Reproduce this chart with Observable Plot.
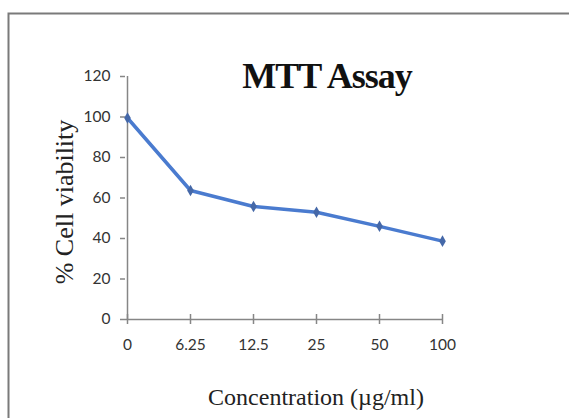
<!DOCTYPE html>
<html>
<head>
<meta charset="utf-8">
<script src="https://cdn.jsdelivr.net/npm/d3@7"></script>
<script src="https://cdn.jsdelivr.net/npm/@observablehq/plot@0.6"></script>
<style>
  html, body { margin: 0; padding: 0; background: #fff; }
  #chart { position: relative; width: 569px; height: 418px; }
</style>
</head>
<body>
<div id="chart"></div>
<script>
const concentrations = ["0", "6.25", "12.5", "25", "50", "100"];
const viability = [99.5, 63.7, 55.8, 53.0, 46.0, 38.7];
const yTicks = [0, 20, 40, 60, 80, 100, 120];
const titleText = "MTT Assay";
const xTitle = "Concentration (\u00b5g/ml)";
const yTitle = "% Cell viability";

const data = concentrations.map((c, i) => ({conc: c, v: viability[i]}));

const axisColor = "#868686";
const tickFont = "Lato, 'Open Sans', sans-serif";
const serif = "'Liberation Serif', 'DejaVu Serif', serif";

const plot = Plot.plot({
  width: 569,
  height: 418,
  marginLeft: 125,
  marginRight: 126,
  marginTop: 76,
  marginBottom: 99,
  style: {background: "transparent", overflow: "visible"},
  x: {type: "point", domain: concentrations, padding: 0, axis: null},
  y: {domain: [0, 120], axis: null},
  marks: [
    Plot.ruleX([concentrations[0]], {y1: 0, y2: 120, stroke: axisColor, strokeWidth: 1.5}),
    Plot.ruleY([0], {stroke: axisColor, strokeWidth: 1.5}),
    Plot.axisY({ticks: yTicks, tickSize: 5, tickPadding: 10, stroke: axisColor, strokeWidth: 1.5,
      fontSize: 15.5, fontFamily: tickFont, fill: "#333", label: null}),
    Plot.axisX({tickSize: 10, dy: -5, tickFormat: () => "", stroke: axisColor, strokeWidth: 1.5, label: null}),
    Plot.axisX({tickSize: 0, tickPadding: 19, fontSize: 15.5, fontFamily: tickFont, fill: "#333", label: null}),
    Plot.line(data, {x: "conc", y: "v", stroke: "#4a7bcf", strokeWidth: 3.5, strokeLinejoin: "round"}),
    Plot.dot(data, {x: "conc", y: "v", symbol: "diamond", r: 3.5, fill: "#4568a8"})
  ]
});

const svg = d3.select(plot);
// outer border (top and left edges visible)
svg.append("path")
  .attr("d", "M8.5,418 L8.5,13.5 L569,13.5")
  .attr("fill", "none").attr("stroke", "#7a7a7a").attr("stroke-width", 2);

svg.append("text")
  .attr("x", 327).attr("y", 88)
  .attr("text-anchor", "middle")
  .attr("font-family", serif).attr("font-weight", "bold")
  .attr("font-size", 36).attr("letter-spacing", -1)
  .attr("fill", "#111")
  .text(titleText);

svg.append("text")
  .attr("transform", "translate(73,202) rotate(-90)")
  .attr("text-anchor", "middle")
  .attr("font-family", serif).attr("font-size", 26)
  .attr("fill", "#222")
  .text(yTitle);

svg.append("text")
  .attr("x", 316).attr("y", 405)
  .attr("text-anchor", "middle")
  .attr("font-family", serif).attr("font-size", 24)
  .attr("fill", "#222")
  .text(xTitle);

document.getElementById("chart").appendChild(plot);
</script>
</body>
</html>
